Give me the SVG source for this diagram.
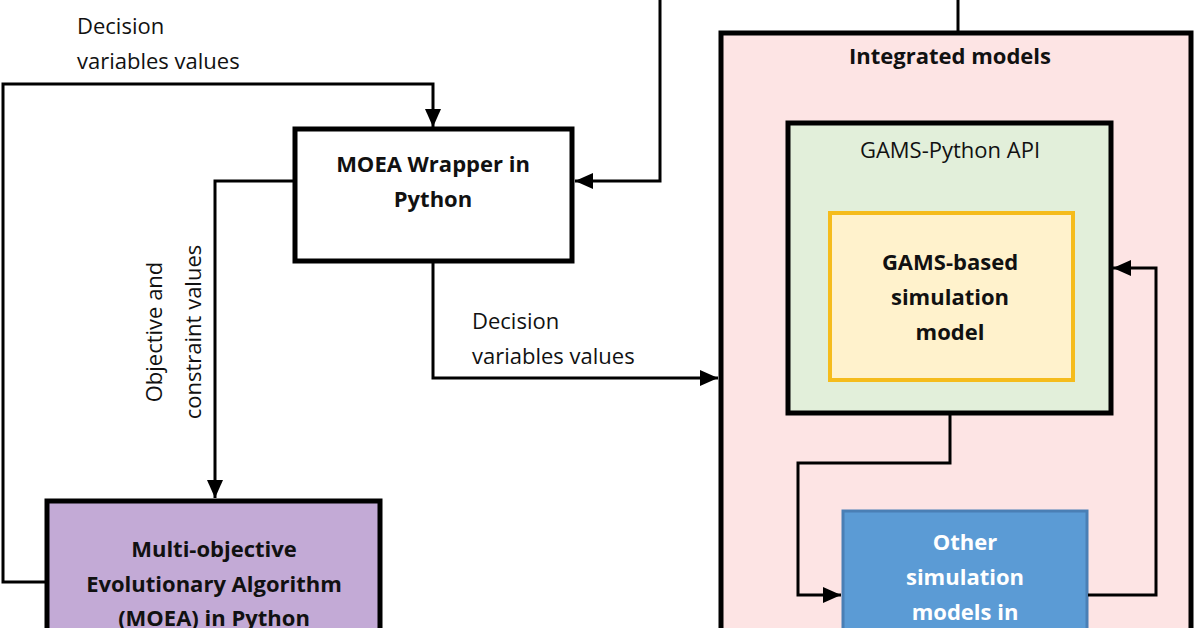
<svg xmlns="http://www.w3.org/2000/svg" width="1196" height="628" viewBox="0 0 1196 628">
<style>
text{font-family:"Open Sans","Liberation Sans",sans-serif;font-size:22px;fill:#111}
.b{font-weight:bold;text-anchor:middle}
.c{text-anchor:middle}
.ln{fill:none;stroke:#000;stroke-width:3}
</style>
<defs>
<marker id="a" markerWidth="8" markerHeight="8" refX="7" refY="4" orient="auto" markerUnits="userSpaceOnUse" viewBox="0 0 8 8"><path d="M0,0L8,4L0,8z" fill="#000"/></marker>
<marker id="ah" markerWidth="20" markerHeight="20" refX="18" refY="10" orient="auto" markerUnits="userSpaceOnUse"><path d="M0,2L18,10L0,18z" fill="#000"/></marker>
</defs>
<rect width="1196" height="628" fill="#fff"/>
<g id="integrated">
<rect x="721" y="33" width="470" height="600" fill="#fde4e4" stroke="#000" stroke-width="5"/>
<text class="b" x="950" y="64">Integrated models</text>
</g>
<g id="gamsapi">
<rect x="788" y="123" width="323" height="290" fill="#e2efda" stroke="#000" stroke-width="5"/>
<text class="c" x="950" y="158" fill="#333">GAMS-Python API</text>
</g>
<g id="gamsmodel">
<rect x="830" y="213" width="243" height="167" fill="#fff2cc" stroke="#f5bc1c" stroke-width="4"/>
<text class="b" x="950" y="270">GAMS-based</text>
<text class="b" x="950" y="305">simulation</text>
<text class="b" x="950" y="340">model</text>
</g>
<g id="other">
<rect x="843" y="511" width="244" height="130" fill="#5b9bd5" stroke="#4a7fb5" stroke-width="3"/>
<text class="b" x="965" y="550" style="fill:#fff">Other</text>
<text class="b" x="965" y="585" style="fill:#fff">simulation</text>
<text class="b" x="965" y="620" style="fill:#fff">models in</text>
</g>
<g id="wrapper">
<rect x="295" y="129" width="277" height="132" fill="#fff" stroke="#000" stroke-width="5"/>
<text class="b" x="433" y="172">MOEA Wrapper in</text>
<text class="b" x="433" y="207">Python</text>
</g>
<g id="moea">
<rect x="47" y="501" width="333" height="140" fill="#c3aad6" stroke="#000" stroke-width="5"/>
<text class="b" x="214" y="557">Multi-objective</text>
<text class="b" x="214" y="592">Evolutionary Algorithm</text>
<text class="b" x="214" y="626">(MOEA) in Python</text>
</g>
<g id="connectors">
<path class="ln" d="M47,582H3V84H433V127" marker-end="url(#ah)"/>
<path class="ln" d="M294,181H215V498" marker-end="url(#ah)"/>
<path class="ln" d="M433,262V378H718" marker-end="url(#ah)"/>
<path class="ln" d="M660,0V181H575" marker-end="url(#ah)"/>
<path class="ln" d="M958,0V32"/>
<path class="ln" d="M950,414V463H798V595H841" marker-end="url(#ah)"/>
<path class="ln" d="M1088,595H1156V268H1113" marker-end="url(#ah)"/>
</g>
<g id="labels">
<text x="77" y="34">Decision</text>
<text x="77" y="69">variables values</text>
<text x="472" y="329">Decision</text>
<text x="472" y="364">variables values</text>
<text transform="translate(162,332) rotate(-90)" class="c">Objective and</text>
<text transform="translate(201,332) rotate(-90)" class="c">constraint values</text>
</g>
</svg>
